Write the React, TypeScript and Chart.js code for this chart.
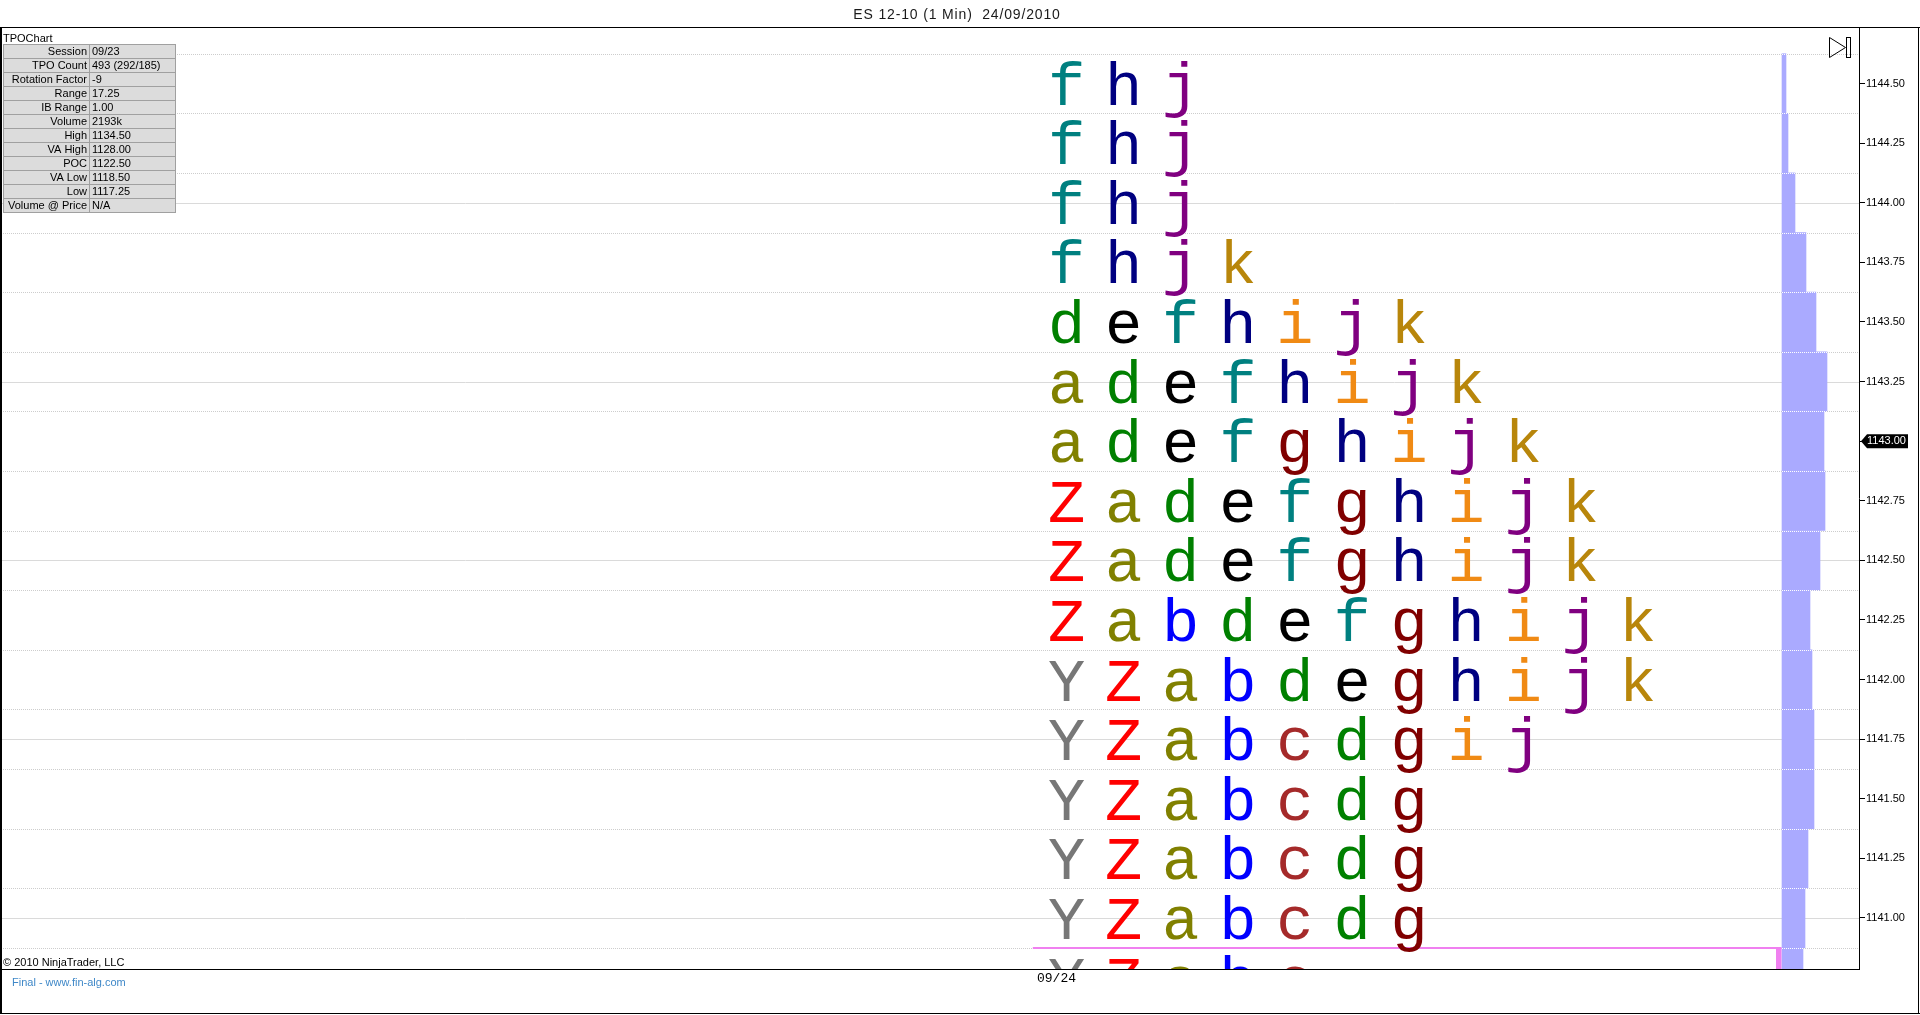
import { useEffect, useRef } from "react";
import { Chart, registerables } from "chart.js";

Chart.register(...registerables);

// ---------- data ----------
const TITLE = "ES 12-10 (1 Min)  24/09/2010";
const SESSION_LABEL = "09/24";
const COPYRIGHT = "© 2010 NinjaTrader, LLC";
const FOOTER = "Final - www.fin-alg.com";

const TPO_PRICES = [
  1144.5, 1144.25, 1144.0, 1143.75, 1143.5, 1143.25, 1143.0, 1142.75,
  1142.5, 1142.25, 1142.0, 1141.75, 1141.5, 1141.25, 1141.0, 1140.75,
];
const TPO_ROWS = [
  "fhj", "fhj", "fhj", "fhjk", "defhijk", "adefhijk", "adefghijk", "Zadefghijk",
  "Zadefghijk", "Zabdefghijk", "YZabdeghijk", "YZabcdgij", "YZabcdg", "YZabcdg", "YZabcdg", "YZabc",
];
const VOLUME_AT_PRICE = [
  1000, 1500, 3250, 6000, 8500, 11250, 10500, 10750,
  9500, 7000, 7500, 8000, 8000, 6500, 5750, 5250,
];
const PERIODS = ["Y", "Z", "a", "b", "c", "d", "e", "f", "g", "h", "i", "j", "k"];
const PERIOD_COLORS = [
  "#777777", "#FF0000", "#808000", "#0000FF", "#A52A2A", "#008000", "#000000",
  "#008080", "#800000", "#000080", "#F08A14", "#800080", "#B8860B",
];

const PRICE_STEP = 0.25;
const Y_MIN = 1140.786;
const Y_MAX = 1144.737;
const SOLID_GRID_PRICES = [1141.0, 1141.75, 1142.5, 1143.25, 1144.0];
const LAST_PRICE = 1143.0;
const OPEN_LINE_PRICE = 1140.875;

const STATS_TITLE = "TPOChart";
const STATS_LABELS = [
  "Session", "TPO Count", "Rotation Factor", "Range", "IB Range", "Volume",
  "High", "VA High", "POC", "VA Low", "Low", "Volume @ Price",
];
const STATS_VALUES = [
  "09/23", "493 (292/185)", "-9", "17.25", "1.00", "2193k",
  "1134.50", "1128.00", "1122.50", "1118.50", "1117.25", "N/A",
];

// ---------- layout ----------
const W = 1920;
const H = 1015;
const PLOT_LEFT = 1;
const PLOT_TOP = 27;
const PLOT_RIGHT = 1859;
const PLOT_BOTTOM = 969;
const COL0_PX = 1066.5;
const COL_W = 57.1;
const VOL_BASE_PX = 1782;
const VOL_UNITS_PER_PX = 250;

const SANS = "'Liberation Sans', Arial, sans-serif";

const tpoPlugin = {
  id: "tpoPlugin",
  beforeDraw(chart: any) {
    const ctx = chart.ctx;
    ctx.save();
    ctx.fillStyle = "#ffffff";
    ctx.fillRect(0, 0, W, H);
    ctx.fillStyle = "#1a1a1a";
    ctx.font = `14px ${SANS}`;
    try { (ctx as any).letterSpacing = "0.85px"; } catch (e) {}
    ctx.textAlign = "center";
    ctx.textBaseline = "alphabetic";
    ctx.fillText(TITLE, 957, 19);
    try { (ctx as any).letterSpacing = "0px"; } catch (e) {}
    ctx.restore();
  },
  beforeDatasetsDraw(chart: any) {
    const ctx = chart.ctx;
    const ca = chart.chartArea;
    const ys = chart.scales.y;
    ctx.save();
    ctx.lineWidth = 1;
    // solid grid
    ctx.strokeStyle = "#DADADA";
    SOLID_GRID_PRICES.forEach((p) => {
      const y = Math.round(ys.getPixelForValue(p)) + 0.5;
      ctx.beginPath();
      ctx.moveTo(ca.left, y);
      ctx.lineTo(ca.right, y);
      ctx.stroke();
    });
    // dotted row boundaries
    ctx.strokeStyle = "#CDCDCD";
    ctx.setLineDash([1, 1]);
    TPO_PRICES.forEach((p) => {
      const y = Math.round(ys.getPixelForValue(p + PRICE_STEP / 2)) + 0.5;
      if (y < ca.top || y > ca.bottom) return;
      ctx.beginPath();
      ctx.moveTo(ca.left, y);
      ctx.lineTo(ca.right, y);
      ctx.stroke();
    });
    ctx.restore();
  },
  afterDatasetsDraw(chart: any) {
    const ctx = chart.ctx;
    const ca = chart.chartArea;
    const ys = chart.scales.y;
    const xs = chart.scales.x;
    const xv = chart.scales.xv;
    ctx.save();
    ctx.beginPath();
    ctx.rect(ca.left, ca.top, ca.right - ca.left, ca.bottom - ca.top);
    ctx.clip();

    // white dotted separators over volume bars
    ctx.strokeStyle = "#ffffff";
    ctx.lineWidth = 1;
    ctx.setLineDash([1, 1]);
    const vb = xv.getPixelForValue(0);
    TPO_PRICES.forEach((p) => {
      const y = Math.round(ys.getPixelForValue(p + PRICE_STEP / 2)) + 0.5;
      ctx.beginPath();
      ctx.moveTo(vb, y);
      ctx.lineTo(vb + 60, y);
      ctx.stroke();
    });
    ctx.setLineDash([]);

    // pink open line
    const py = Math.round(ys.getPixelForValue(OPEN_LINE_PRICE));
    const px0 = xs.getPixelForValue(-0.59);
    const px1 = vb - 6;
    ctx.fillStyle = "#F080F0";
    ctx.fillRect(px0, py - 1, px1 - px0, 2);
    ctx.fillRect(px1, py - 1, 5.5, ca.bottom - py + 1);

    // TPO letters
    ctx.font = "62px 'Liberation Mono', monospace";
    ctx.textAlign = "center";
    ctx.textBaseline = "alphabetic";
    TPO_ROWS.forEach((row, r) => {
      const y = ys.getPixelForValue(TPO_PRICES[r]) + 21;
      row.split("").forEach((ch, c) => {
        ctx.fillStyle = PERIOD_COLORS[PERIODS.indexOf(ch)];
        ctx.fillText(ch, xs.getPixelForValue(c), y);
      });
    });

    // stats table
    ctx.font = `11px ${SANS}`;
    ctx.textBaseline = "alphabetic";
    ctx.fillStyle = "#000";
    ctx.textAlign = "left";
    ctx.fillText(STATS_TITLE, 3, 42);
    const tx = 3, ty = 44, rh = 14, tw = 172, dx = 89;
    STATS_LABELS.forEach((lab, i) => {
      const y = ty + i * rh;
      ctx.fillStyle = "#DCDCDC";
      ctx.fillRect(tx, y, tw, rh);
    });
    ctx.strokeStyle = "#A0A0A0";
    ctx.lineWidth = 1;
    STATS_LABELS.forEach((lab, i) => {
      const y = ty + i * rh;
      ctx.strokeRect(tx + 0.5, y + 0.5, tw, rh);
      ctx.fillStyle = "#000";
      ctx.textAlign = "right";
      ctx.fillText(lab, dx - 2, y + 11);
      ctx.textAlign = "left";
      ctx.fillText(STATS_VALUES[i], dx + 3, y + 11);
    });
    ctx.beginPath();
    ctx.moveTo(dx + 0.5, ty);
    ctx.lineTo(dx + 0.5, ty + rh * STATS_LABELS.length);
    ctx.stroke();

    // copyright
    ctx.fillStyle = "#000";
    ctx.textAlign = "left";
    ctx.fillText(COPYRIGHT, 3, 966);
    ctx.restore();
  },
  afterDraw(chart: any) {
    const ctx = chart.ctx;
    const ys = chart.scales.y;
    ctx.save();
    ctx.fillStyle = "#000";
    // frame lines
    ctx.fillRect(0, PLOT_TOP, W, 1);
    ctx.fillRect(0, PLOT_BOTTOM, PLOT_RIGHT, 1);
    ctx.fillRect(0, PLOT_TOP, 2, H - PLOT_TOP - 1);
    ctx.fillRect(0, 1013, W, 1);
    ctx.fillRect(1918, PLOT_TOP, 1, H - PLOT_TOP - 1);

    // last price marker
    const ly = ys.getPixelForValue(LAST_PRICE);
    ctx.beginPath();
    ctx.moveTo(1861, ly);
    ctx.lineTo(1867, ly - 7);
    ctx.lineTo(1908, ly - 7);
    ctx.lineTo(1908, ly + 7);
    ctx.lineTo(1867, ly + 7);
    ctx.closePath();
    ctx.fill();
    ctx.fillStyle = "#fff";
    ctx.font = `11px ${SANS}`;
    ctx.textAlign = "left";
    ctx.textBaseline = "middle";
    ctx.fillText(LAST_PRICE.toFixed(2), 1867, ly);

    // scroll-to-end icon
    ctx.strokeStyle = "#000";
    ctx.lineWidth = 1;
    ctx.beginPath();
    ctx.moveTo(1829.5, 37.5);
    ctx.lineTo(1829.5, 57.5);
    ctx.lineTo(1845.5, 47.5);
    ctx.closePath();
    ctx.stroke();
    ctx.strokeRect(1846.5, 37.5, 4, 20);

    // x-axis session label
    ctx.fillStyle = "#000";
    ctx.font = "13px 'Liberation Mono', monospace";
    ctx.textAlign = "left";
    ctx.textBaseline = "alphabetic";
    ctx.fillText(SESSION_LABEL, 1037, 982);

    // footer
    ctx.fillStyle = "#3F88C8";
    ctx.font = `11px ${SANS}`;
    ctx.fillText(FOOTER, 12, 986);
    ctx.restore();
  },
};

export default function App() {
  const ref = useRef<HTMLCanvasElement>(null);
  useEffect(() => {
    document.body.style.margin = "0";
    const canvas = ref.current!;
    const chart = new Chart(canvas, {
      type: "bar",
      data: {
        datasets: [
          {
            label: "Volume",
            data: TPO_PRICES.map((p, i) => ({ x: VOLUME_AT_PRICE[i], y: p })),
            xAxisID: "xv",
            yAxisID: "y",
            backgroundColor: "#AAAAFF",
            borderWidth: 0,
            categoryPercentage: 1,
            barPercentage: 1,
          } as any,
        ],
      },
      options: {
        indexAxis: "y",
        animation: false,
        responsive: false,
        devicePixelRatio: 1,
        events: [],
        layout: {
          padding: { top: PLOT_TOP, left: PLOT_LEFT, right: 0, bottom: H - PLOT_BOTTOM },
        },
        plugins: {
          legend: { display: false },
          tooltip: { enabled: false },
          title: { display: false },
        },
        scales: {
          x: {
            type: "linear",
            display: false,
            min: (PLOT_LEFT - COL0_PX) / COL_W,
            max: (PLOT_RIGHT - COL0_PX) / COL_W,
          },
          xv: {
            type: "linear",
            axis: "x",
            display: false,
            min: -(VOL_BASE_PX - PLOT_LEFT) * VOL_UNITS_PER_PX,
            max: (PLOT_RIGHT - VOL_BASE_PX) * VOL_UNITS_PER_PX,
          },
          y: {
            type: "linear",
            position: "right",
            min: Y_MIN,
            max: Y_MAX,
            offset: false,
            afterFit: (scale: any) => {
              scale.width = W - PLOT_RIGHT;
            },
            grid: {
              offset: false,
              drawOnChartArea: false,
              drawTicks: true,
              tickLength: 6,
              tickColor: "#000",
              color: "#000",
            },
            border: { display: true, color: "#000", width: 1 },
            ticks: {
              stepSize: PRICE_STEP,
              includeBounds: false,
              padding: 1,
              color: "#000",
              font: { family: SANS, size: 11 },
              callback: (v: any) => Number(v).toFixed(2),
            },
          },
        } as any,
      },
      plugins: [tpoPlugin],
    });
    return () => chart.destroy();
  }, []);
  return (
    <div style={{ position: "fixed", left: 0, top: 0, width: W, height: H, background: "#fff" }}>
      <canvas ref={ref} width={W} height={H} style={{ display: "block", width: W, height: H }} />
    </div>
  );
}
